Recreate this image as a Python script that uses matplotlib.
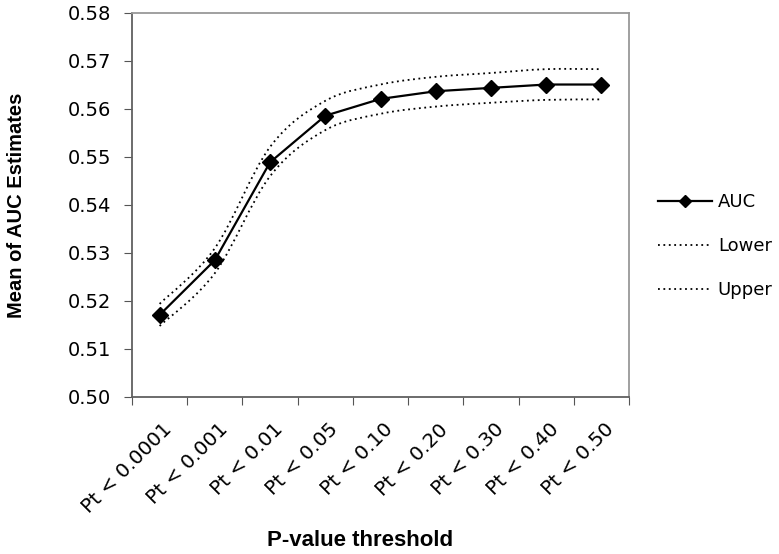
import matplotlib
matplotlib.use("Agg")
import matplotlib.pyplot as plt
import matplotlib.transforms as mtransforms
import numpy as np
from matplotlib.path import Path
from matplotlib.patches import PathPatch
from matplotlib.lines import Line2D

categories = ["Pt < 0.0001", "Pt < 0.001", "Pt < 0.01", "Pt < 0.05", "Pt < 0.10",
              "Pt < 0.20", "Pt < 0.30", "Pt < 0.40", "Pt < 0.50"]
auc = [0.5171, 0.5285, 0.5489, 0.5586, 0.5621, 0.5637, 0.5644, 0.5651, 0.5651]
lower = [0.5148, 0.5258, 0.5460, 0.5556, 0.5590, 0.5605, 0.5613, 0.5619, 0.5620]
upper = [0.5194, 0.5310, 0.5521, 0.5617, 0.5651, 0.5667, 0.5675, 0.5683, 0.5683]
yticks = [0.50, 0.51, 0.52, 0.53, 0.54, 0.55, 0.56, 0.57, 0.58]

L, R, T, B = 132, 629, 13, 397
fig = plt.figure(figsize=(7.79, 5.54), dpi=100)
ax = fig.add_axes([L/779, 1-B/554, (R-L)/779, (B-T)/554])

x = np.arange(len(categories))

def smooth_path(xs, ys, t=1/6):
    xs = np.asarray(xs, float); ys = np.asarray(ys, float)
    verts = [(xs[0], ys[0])]
    codes = [Path.MOVETO]
    n = len(xs)
    for i in range(n - 1):
        p0 = np.array([xs[max(i-1, 0)], ys[max(i-1, 0)]])
        p1 = np.array([xs[i], ys[i]])
        p2 = np.array([xs[i+1], ys[i+1]])
        p3 = np.array([xs[min(i+2, n-1)], ys[min(i+2, n-1)]])
        c1 = p1 + (p2 - p0) * t
        c2 = p2 - (p3 - p1) * t
        verts += [tuple(c1), tuple(c2), tuple(p2)]
        codes += [Path.CURVE4] * 3
    return Path(verts, codes)

for ser in (lower, upper):
    ax.add_patch(PathPatch(smooth_path(x, ser), facecolor="none", edgecolor="black",
                           lw=1.3, linestyle=(0, (1, 2))))

ax.plot(x, auc, color="black", lw=1.6, marker="D", markersize=8.5, zorder=3)

ax.set_xlim(-0.5, len(categories) - 0.5)
ax.set_ylim(0.50, 0.58)
ax.set_yticks(yticks)
ax.set_yticklabels([f"{v:.2f}" for v in yticks], fontsize=14, family="DejaVu Sans")
ax.set_xticks(np.arange(len(categories) + 1) - 0.5)
ax.set_xticklabels([])
ax.set_xticks(x, minor=True)
ax.set_xticklabels(categories, minor=True, rotation=45, ha="right", va="top",
                   rotation_mode="anchor", fontsize=14.3, family="DejaVu Sans")
ax.tick_params(axis="x", which="minor", length=0, pad=16.5)
ax.tick_params(axis="x", which="major", length=6, direction="out", color="#555555")
ax.tick_params(axis="y", length=6, direction="out", color="#555555", pad=9)
offset = mtransforms.ScaledTranslation(3/100, 0, fig.dpi_scale_trans)
for lab in ax.get_xticklabels(minor=True):
    lab.set_transform(lab.get_transform() + offset)

for s in ("top", "right"):
    ax.spines[s].set_color("#999999")
for s in ("left", "bottom"):
    ax.spines[s].set_color("#606060")
for s in ax.spines.values():
    s.set_linewidth(1.3)

ax.set_ylabel("Mean of AUC Estimates", fontsize=14.5, fontweight="bold",
              family="Liberation Sans")
ax.yaxis.set_label_coords((17-L)/(R-L), 0.5)
ax.set_xlabel("P-value threshold", fontsize=16, fontweight="bold",
              family="Liberation Sans")
ax.xaxis.set_label_coords((360-L)/(R-L), -(540-B)/(B-T))
ax.xaxis.label.set_va("center")
ax.yaxis.label.set_va("center")

handles = [Line2D([], [], color="black", lw=1.6, marker="D", markersize=6),
           Line2D([], [], color="black", lw=1.3, linestyle=(0, (1, 2))),
           Line2D([], [], color="black", lw=1.3, linestyle=(0, (1, 2)))]
fig.legend(handles, ["AUC", "Lower", "Upper"], loc="center left",
           bbox_to_anchor=(642/779, 1-246/554), frameon=False,
           prop={"family": "DejaVu Sans", "size": 13}, labelspacing=1.45,
           handlelength=3.0, handletextpad=0.3)

fig.savefig("out.png", dpi=100)
